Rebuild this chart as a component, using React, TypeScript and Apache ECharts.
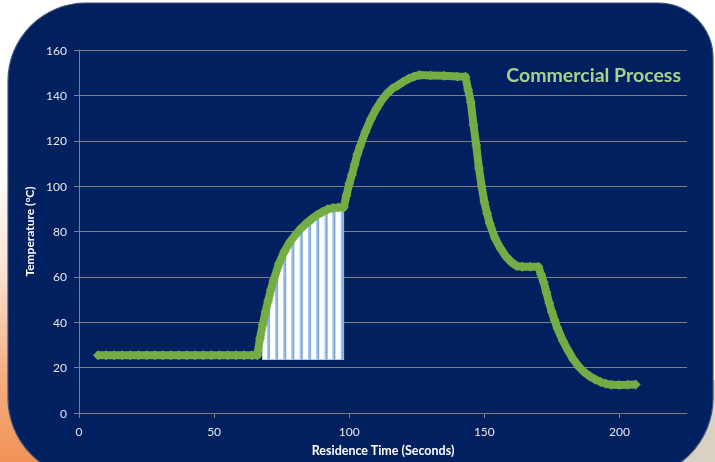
import React, { useEffect, useRef } from "react";
import * as echarts from "echarts";

// Temperature profile (seconds, °C)
const TIME = [
  7, 10, 13, 16, 19, 22, 25, 28, 31, 34, 37, 40, 43, 46, 49, 52, 55, 58, 61, 64, 66,
  67, 68, 69, 70, 71, 72, 74, 76, 78, 80, 82, 84, 86, 88, 90, 92, 94, 96, 98,
  99, 100, 101, 102, 103, 104, 106, 108, 110, 112, 114, 116, 118, 120, 122, 124, 126, 130, 135, 140, 143,
  144, 145, 146, 147, 148, 149, 150, 151, 152, 154, 156, 158, 160, 162, 164, 167, 170,
  171, 172, 173, 174, 175, 176, 177, 179, 181, 183, 185, 187, 189, 191, 193, 195, 197, 200, 203, 206,
];
const TEMP = [
  25.5, 25.5, 25.5, 25.5, 25.5, 25.5, 25.5, 25.5, 25.5, 25.5, 25.5, 25.5, 25.5, 25.5, 25.5, 25.5, 25.5, 25.5, 25.5, 25.5, 25.5,
  33, 39, 44.5, 49.5, 54.2, 58.5, 65.8, 71.2, 75.3, 78.4, 81.2, 83.5, 85.4, 87.2, 88.6, 89.8, 90.4, 90.6, 90.7,
  96, 101, 105, 109.5, 114, 117.5, 124, 129.5, 134, 137.8, 140.8, 143, 144.4, 146, 147.3, 148.3, 149, 148.8, 148.6, 148.3, 148.2,
  142.5, 137, 127, 118, 108, 100, 93, 88, 83.5, 77, 72.5, 69, 66.5, 64.8, 64.5, 64.5, 64.5,
  61, 57.5, 53, 48.5, 44.5, 41, 37.5, 32, 27.5, 23.5, 20.4, 18, 16.2, 14.8, 13.7, 12.9, 12.4, 12.3, 12.4, 12.6,
];

// Shaded (hatched) window under the first ramp
const HATCH_START = 67.8;
const HATCH_END = 98.1;
const HATCH_BASE = 23.5;
const HATCH_STRIPES = [70.1, 73.1, 76.1, 79.1, 82.2, 85.3, 88.3, 91.4, 94.3, 97.4];

const X_TICKS = [0, 50, 100, 150, 200];

const TITLE = "Commercial Process";
const X_NAME = "Residence Time (Seconds)";
const Y_NAME = "Temperature (°C)";

const FONT = "Lato, 'Open Sans', sans-serif";
const GREEN = "#72AD45";
const NAVY = "#002060";
const GRID = "#808080";

function curveAt(t: number): number {
  for (let i = 0; i < TIME.length - 1; i++) {
    if (t >= TIME[i] && t <= TIME[i + 1]) {
      const f = (t - TIME[i]) / (TIME[i + 1] - TIME[i]);
      return TEMP[i] + f * (TEMP[i + 1] - TEMP[i]);
    }
  }
  return TEMP[TEMP.length - 1];
}

export default function App() {
  const ref = useRef<HTMLDivElement>(null);

  useEffect(() => {
    if (!ref.current) return;
    const chart = echarts.init(ref.current, undefined, { renderer: "svg" });

    const lineData = TIME.map((t, i) => [t, TEMP[i]]);

    const option: any = {
      animation: false,
      backgroundColor: "transparent",
      graphic: [
        {
          type: "rect",
          z: -20,
          silent: true,
          shape: { x: 0, y: 0, width: 715, height: 462 },
          style: { fill: "#FFFFFF" },
        },
        {
          type: "rect",
          z: -19,
          silent: true,
          shape: { x: 0, y: 170, width: 90, height: 292 },
          style: {
            fill: new echarts.graphic.LinearGradient(0, 0, 0, 1, [
              { offset: 0, color: "#FFFFFF" },
              { offset: 0.35, color: "#FBE2D4" },
              { offset: 0.7, color: "#F4AE82" },
              { offset: 1, color: "#F09257" },
            ]),
          },
        },
        {
          type: "rect",
          z: -19,
          silent: true,
          shape: { x: 600, y: 380, width: 115, height: 82 },
          style: { fill: "#D8D1C4" },
        },
        {
          type: "rect",
          z: -18,
          silent: true,
          shape: { x: 8, y: 3, width: 705, height: 475, r: [78, 55, 80, 80] },
          style: { fill: NAVY, stroke: "#3E5276", lineWidth: 1.2 },
        },
        {
          type: "text",
          z: 10,
          silent: true,
          x: 681,
          y: 74,
          style: {
            text: TITLE,
            fill: "#A9D18E",
            font: `bold 19.5px ${FONT}`,
            align: "right",
            verticalAlign: "middle",
          },
        },
      ],
      grid: { left: 79, right: 28, top: 50, bottom: 49, containLabel: false },
      xAxis: {
        type: "value",
        min: 0,
        max: 225,
        interval: 50,
        name: X_NAME,
        nameLocation: "middle",
        nameGap: 31,
        nameTextStyle: { color: "#FFFFFF", fontWeight: "bold", fontSize: 12.5, fontFamily: FONT },
        axisLine: { show: true, onZero: false, lineStyle: { color: GRID, width: 1 } },
        axisTick: { show: true, length: 5, customValues: X_TICKS, lineStyle: { color: GRID } },
        axisLabel: { customValues: X_TICKS, color: "#E8E8E8", fontSize: 12, margin: 12, fontFamily: FONT },
        splitLine: { show: false },
      },
      yAxis: {
        type: "value",
        min: 0,
        max: 160,
        interval: 20,
        name: Y_NAME,
        nameLocation: "middle",
        nameGap: 37,
        nameRotate: 90,
        nameTextStyle: { color: "#FFFFFF", fontWeight: "bold", fontSize: 12, fontFamily: FONT },
        axisLine: { show: true, lineStyle: { color: GRID, width: 1 } },
        axisTick: { show: true, length: 5, lineStyle: { color: GRID } },
        axisLabel: { color: "#E8E8E8", fontSize: 12, margin: 12, fontFamily: FONT },
        splitLine: { show: true, lineStyle: { color: GRID, width: 1 } },
      },
      series: [
        {
          type: "custom",
          z: 3,
          silent: true,
          data: [[HATCH_START, HATCH_BASE]],
          renderItem: (_params: any, api: any) => {
            const pts: number[][] = [];
            pts.push(api.coord([HATCH_START, HATCH_BASE]));
            pts.push(api.coord([HATCH_START, curveAt(HATCH_START)]));
            TIME.forEach((t, i) => {
              if (t > HATCH_START && t < HATCH_END) pts.push(api.coord([t, TEMP[i]]));
            });
            pts.push(api.coord([HATCH_END, curveAt(HATCH_END)]));
            pts.push(api.coord([HATCH_END, HATCH_BASE]));
            const children: any[] = [
              { type: "polygon", shape: { points: pts }, style: { fill: "#FFFFFF" } },
            ];
            HATCH_STRIPES.forEach((s) => {
              const top = api.coord([s, curveAt(s)]);
              const bot = api.coord([s, HATCH_BASE]);
              children.push({
                type: "rect",
                shape: { x: top[0] - 1.5, y: top[1], width: 3.2, height: bot[1] - top[1] },
                style: { fill: "#A6C6EA" },
              });
              children.push({
                type: "rect",
                shape: { x: top[0], y: top[1], width: 1.3, height: bot[1] - top[1] },
                style: { fill: "#7DA6D8" },
              });
            });
            return { type: "group", children };
          },
        },
        {
          type: "line",
          z: 5,
          data: lineData,
          symbol: "diamond",
          symbolSize: 10,
          showAllSymbol: true,
          itemStyle: { color: GREEN },
          lineStyle: { color: GREEN, width: 8, join: "round", cap: "butt" },
        },
      ],
    };

    chart.setOption(option);
    return () => chart.dispose();
  }, []);

  return (
    <div style={{ position: "fixed", left: 0, top: 0, width: 715, height: 462 }}>
      <div ref={ref} style={{ width: 715, height: 462 }} />
    </div>
  );
}
